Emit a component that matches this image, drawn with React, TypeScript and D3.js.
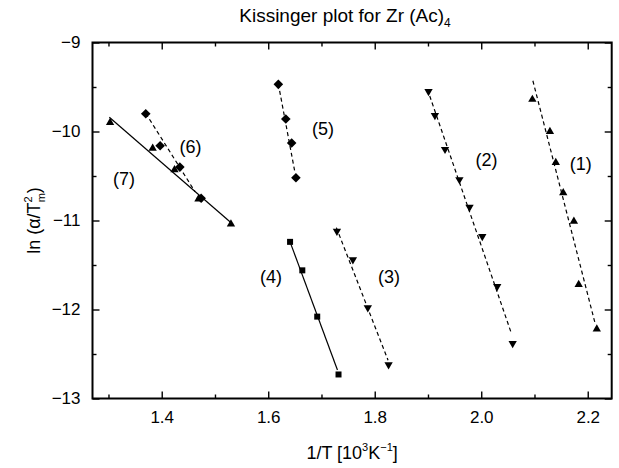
import React, { useEffect, useRef } from "react";
import * as d3 from "d3";

// 1/T [10^3 K^-1] against ln(alpha/Tm^2), one pair per run
const invT1 = [2.096, 2.129, 2.14, 2.154, 2.174, 2.183, 2.217];
const lnA1 = [-9.64, -10.0, -10.35, -10.69, -11.01, -11.72, -12.22];
const invT2 = [1.901, 1.913, 1.932, 1.959, 1.978, 2.002, 2.03, 2.059];
const lnA2 = [-9.55, -9.82, -10.2, -10.54, -10.85, -11.18, -11.74, -12.38];
const invT3 = [1.729, 1.759, 1.787, 1.826];
const lnA3 = [-11.12, -11.44, -11.98, -12.62];
const invT4 = [1.641, 1.664, 1.692, 1.732];
const lnA4 = [-11.24, -11.56, -12.08, -12.73];
const invT5 = [1.619, 1.633, 1.644, 1.652];
const lnA5 = [-9.47, -9.86, -10.13, -10.52];
const invT6 = [1.37, 1.397, 1.434, 1.474];
const lnA6 = [-9.8, -10.16, -10.4, -10.75];
const invT7 = [1.303, 1.383, 1.424, 1.469, 1.53];
const lnA7 = [-9.9, -10.19, -10.43, -10.76, -11.04];

// fitted lines, [start, end] of each
const fitT = [[2.097, 2.214], [1.899, 2.057], [1.728, 1.825], [1.641, 1.73], [1.619, 1.65], [1.37, 1.4625], [1.3016, 1.5314]];
const fitLn = [[-9.43, -12.16], [-9.526, -12.275], [-11.08, -12.57], [-11.24, -12.68], [-9.466, -10.455], [-9.796, -10.676], [-9.84, -11.031]];

const runLabels = ["(1)", "(2)", "(3)", "(4)", "(5)", "(6)", "(7)"];
const labelT = [2.187, 2.01, 1.827, 1.605, 1.703, 1.454, 1.329];
const labelLn = [-10.357, -10.32, -11.63, -11.63, -9.964, -10.171, -10.526];

const xTicks = [1.4, 1.6, 1.8, 2.0, 2.2];
const xMinor = [1.3, 1.5, 1.7, 1.9, 2.1];
const yTicks = [-13, -12, -11, -10, -9];
const yMinor = [-12.5, -11.5, -10.5, -9.5];

const W = 619;
const H = 468;
const FONT = "'Liberation Sans', Arial, Helvetica, sans-serif";

export default function App() {
    const svgRef = useRef<SVGSVGElement>(null);

    useEffect(() => {
        const svg = d3.select(svgRef.current);
        svg.selectAll("*").remove();

        const left = 92.5, right = 611.7, top = 42.5, bottom = 398.5;
        const x = d3.scaleLinear().domain([1.27, 2.245]).range([left, right]);
        const y = d3.scaleLinear().domain([-13, -9]).range([bottom, top]);

        const runs = [
            { t: invT1, ln: lnA1, shape: "up", dash: true },
            { t: invT2, ln: lnA2, shape: "down", dash: true },
            { t: invT3, ln: lnA3, shape: "down", dash: true },
            { t: invT4, ln: lnA4, shape: "square", dash: false },
            { t: invT5, ln: lnA5, shape: "diamond", dash: true },
            { t: invT6, ln: lnA6, shape: "diamond", dash: true },
            { t: invT7, ln: lnA7, shape: "up", dash: false },
        ];

        const g = svg.append("g").attr("font-family", FONT);

        // axes: ticks point inwards, labels only on bottom and left
        const fmt = d3.format(".1f");
        const axes = [
            { ax: d3.axisBottom(x), pos: `translate(0,${bottom})`, major: xTicks, minor: xMinor, label: true, f: fmt },
            { ax: d3.axisTop(x), pos: `translate(0,${top})`, major: xTicks, minor: xMinor, label: false, f: fmt },
            { ax: d3.axisLeft(y), pos: `translate(${left},0)`, major: yTicks, minor: yMinor, label: true, f: d3.format("d") },
            { ax: d3.axisRight(y), pos: `translate(${right},0)`, major: yTicks, minor: yMinor, label: false, f: d3.format("d") },
        ];
        axes.forEach((a) => {
            const major = g.append("g").attr("transform", a.pos)
                .call(a.ax.tickValues(a.major).tickSize(-7).tickPadding(12)
                    .tickFormat(a.label ? (a.f as any) : () => ""));
            major.select(".domain").remove();
            major.selectAll("line").attr("stroke-width", 1.4);
            major.selectAll("text").attr("font-size", 17).attr("fill", "#000").attr("font-family", FONT);
            const minor = g.append("g").attr("transform", a.pos)
                .call(a.ax.tickValues(a.minor).tickSize(-4).tickFormat(() => ""));
            minor.select(".domain").remove();
            minor.selectAll("line").attr("stroke-width", 1.4);
        });

        g.append("rect")
            .attr("x", left).attr("y", top)
            .attr("width", right - left).attr("height", bottom - top)
            .attr("fill", "none").attr("stroke", "#000").attr("stroke-width", 2);

        runs.forEach((r, i) => {
            const pts: [number, number][] = fitT[i].map((t, j) => [x(t), y(fitLn[i][j])]);
            g.append("path")
                .attr("d", d3.line()(pts))
                .attr("fill", "none")
                .attr("stroke", "#000")
                .attr("stroke-width", 1.2)
                .attr("stroke-dasharray", r.dash ? "4,3" : null);

            let sym: d3.SymbolType = d3.symbolTriangle;
            let size = 30;
            let rot = 0;
            if (r.shape === "down") rot = 180;
            if (r.shape === "square") { sym = d3.symbolSquare; size = 36; }
            if (r.shape === "diamond") { sym = d3.symbolSquare; size = 46; rot = 45; }
            const marker = d3.symbol().type(sym).size(size);

            g.append("g").selectAll("path")
                .data(r.t)
                .join("path")
                .attr("d", marker() as string)
                .attr("transform", (d, j) => `translate(${x(d)},${y(r.ln[j])}) rotate(${rot})`)
                .attr("fill", "#000");

            g.append("text")
                .attr("x", x(labelT[i]))
                .attr("y", y(labelLn[i]))
                .attr("dy", "0.35em")
                .attr("text-anchor", "middle")
                .attr("font-size", 18)
                .text(runLabels[i]);
        });

        // title
        const title = g.append("text")
            .attr("x", 345).attr("y", 22)
            .attr("text-anchor", "middle")
            .attr("font-size", 19);
        title.append("tspan").text("Kissinger plot for Zr (Ac)");
        title.append("tspan").attr("font-size", 12).attr("dy", 5).text("4");

        // x axis title
        const xt = g.append("text")
            .attr("x", (left + right) / 2).attr("y", 459)
            .attr("text-anchor", "middle")
            .attr("font-size", 18);
        xt.append("tspan").text("1/T [10");
        xt.append("tspan").attr("font-size", 11).attr("dy", -8).text("3");
        xt.append("tspan").attr("dy", 8).text("K");
        xt.append("tspan").attr("font-size", 11).attr("dy", -8).text("\u22121");
        xt.append("tspan").attr("dy", 8).text("]");

        // y axis title
        const yt = g.append("text")
            .attr("transform", `translate(40,${(top + bottom) / 2}) rotate(-90)`)
            .attr("text-anchor", "middle")
            .attr("font-size", 18);
        yt.append("tspan").text("ln (\u03b1/T");
        yt.append("tspan").attr("font-size", 11).attr("dy", -8).text("2");
        yt.append("tspan").attr("font-size", 11).attr("dx", -6).attr("dy", 13).text("m");
        yt.append("tspan").attr("dy", -5).text(")");
    }, []);

    return (
        <svg
            ref={svgRef}
            width={W}
            height={H}
            style={{ position: "absolute", left: 0, top: 0, background: "#fff" }}
        ></svg>
    );
}
